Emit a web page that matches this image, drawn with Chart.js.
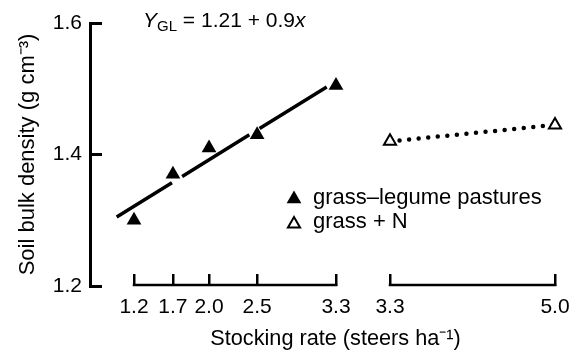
<!DOCTYPE html>
<html><head><meta charset="utf-8">
<script src="https://cdn.jsdelivr.net/npm/chart.js@4/dist/chart.umd.min.js"></script>
<style>
html,body{margin:0;padding:0;background:#fff;}
#wrap{position:relative;width:581px;height:355px;}
#eq{position:absolute;left:143px;top:10px;font-family:'Liberation Sans',Arial,sans-serif;font-size:21px;line-height:20px;color:#000;white-space:nowrap;}
#eq sub{font-size:15px;vertical-align:baseline;position:relative;top:4px;}
</style></head><body>
<div id="wrap"><canvas id="c" width="581" height="355"></canvas><div id="eq"><i>Y</i><sub>GL</sub> = 1.21 + 0.9<i>x</i></div></div>
<script>
// ---- data ----
const yTicks = [1.2, 1.4, 1.6];
const leftTicks = [1.2, 1.7, 2.0, 2.5, 3.3];
const rightTicks = [3.3, 5.0];
const legumeX = [1.2, 1.7, 2.0, 2.5, 3.3];
const legumeY = [1.30, 1.37, 1.41, 1.43, 1.505];
const grassNX = [3.3, 5.0];
const grassNY = [1.42, 1.445];
const fitX = [1.02, 3.23];
const fitY = [1.305, 1.505];
const legendLabels = ['grass\u2013legume pastures', 'grass + N'];
const yTitle = 'Soil bulk density (g cm\u207B\u00B3)';
const xTitle = 'Stocking rate (steers ha\u207B\u00B9)';

// the original figure's left axis is not evenly drawn: where each left tick sits on a uniform ruler
const leftTickPlacement = [1.2, 1.605, 1.98, 2.48, 3.3];

const FONT = "'Liberation Sans', Arial, sans-serif";
Chart.defaults.font.family = FONT;
Chart.defaults.color = '#000';

class WarpScale extends Chart.LinearScale {
  static id = 'warp';
  static defaults = Chart.LinearScale.defaults;
  _w(v) {
    const a = leftTicks, b = leftTickPlacement, n = a.length;
    if (v <= a[0]) return b[0] + (v - a[0]);
    for (let i = 1; i < n; i++) {
      if (v <= a[i]) return b[i - 1] + (v - a[i - 1]) * (b[i] - b[i - 1]) / (a[i] - a[i - 1]);
    }
    return b[n - 1] + (v - a[n - 1]);
  }
  _u(p) {
    const a = leftTicks, b = leftTickPlacement, n = a.length;
    if (p <= b[0]) return a[0] + (p - b[0]);
    for (let i = 1; i < n; i++) {
      if (p <= b[i]) return a[i - 1] + (p - b[i - 1]) * (a[i] - a[i - 1]) / (b[i] - b[i - 1]);
    }
    return a[n - 1] + (p - b[n - 1]);
  }
  getPixelForValue(v) { return super.getPixelForValue(this._w(v)); }
  getValueForPixel(px) { return this._u(super.getValueForPixel(px)); }
}
Chart.register(WarpScale);

const pts = (xs, ys) => xs.map((x, i) => ({x: x, y: ys[i]}));

function tri(ctx, x, y, r) {
  ctx.beginPath();
  ctx.moveTo(x, y - r);
  ctx.lineTo(x + r * Math.sin(2 * Math.PI / 3), y - r * Math.cos(2 * Math.PI / 3));
  ctx.lineTo(x - r * Math.sin(2 * Math.PI / 3), y - r * Math.cos(2 * Math.PI / 3));
  ctx.closePath();
}

const extras = {
  id: 'extras',
  afterDraw(chart) {
    const ctx = chart.ctx;
    ctx.save();
    const y0 = chart.scales.y.getPixelForValue(yTicks[0]);
    [['xL', leftTicks], ['xR', rightTicks]].forEach(([id, t]) => {
      const s = chart.scales[id];
      ctx.beginPath();
      ctx.lineWidth = 2.5; ctx.strokeStyle = '#000'; ctx.lineCap = 'square';
      ctx.moveTo(s.getPixelForValue(t[0]), y0 - 1);
      ctx.lineTo(s.getPixelForValue(t[t.length - 1]), y0 - 1);
      ctx.stroke();
    });
    // legend
    ctx.font = '22px ' + FONT;
    ctx.textBaseline = 'alphabetic';
    ctx.textAlign = 'left';
    tri(ctx, 294, 199, 8.5); ctx.fillStyle = '#000'; ctx.fill();
    ctx.fillText(legendLabels[0], 313, 204);
    tri(ctx, 294, 224, 7); ctx.fillStyle = '#fff'; ctx.fill();
    ctx.lineWidth = 2; ctx.strokeStyle = '#000'; ctx.lineJoin = 'miter'; ctx.stroke();
    ctx.fillStyle = '#000';
    ctx.fillText(legendLabels[1], 313, 228);
    ctx.restore();
  }
};

const noPad = s => { s.paddingLeft = 0; s.paddingRight = 0; s.paddingTop = 0; s.paddingBottom = 0; };
const xTickCommon = {
  padding: 21, color: '#000', font: {size: 21}, maxRotation: 0, autoSkip: false,
  callback: v => Number(v).toFixed(1)
};
const xGrid = {display: true, drawOnChartArea: false, drawTicks: true, tickLength: -12, color: '#000', lineWidth: 2.5};

new Chart(document.getElementById('c'), {
  type: 'line',
  data: {
    datasets: [
      {
        label: 'fit', data: pts(fitX, fitY), xAxisID: 'xL', yAxisID: 'y',
        borderColor: '#000', borderWidth: 3.5, borderDash: [79, 12], borderDashOffset: 14,
        pointRadius: 0, fill: false, tension: 0
      },
      {
        label: legendLabels[0], data: pts(legumeX, legumeY), xAxisID: 'xL', yAxisID: 'y',
        showLine: false, pointStyle: 'triangle', pointRadius: 8.5,
        pointBackgroundColor: '#000', pointBorderColor: '#000', pointBorderWidth: 0
      },
      {
        label: legendLabels[1], data: pts(grassNX, grassNY), xAxisID: 'xR', yAxisID: 'y',
        borderColor: '#000', borderWidth: 4.5, borderDash: [0, 9.6], borderCapStyle: 'round',
        pointStyle: 'triangle', pointRadius: 7, pointBackgroundColor: '#fff',
        pointBorderColor: '#000', pointBorderWidth: 2, fill: false, tension: 0
      }
    ]
  },
  options: {
    responsive: false, animation: false, devicePixelRatio: 1,
    layout: {autoPadding: false, padding: {top: 23, right: 0, bottom: 0, left: 0}},
    plugins: {legend: {display: false}, tooltip: {enabled: false}},
    scales: {
      y: {
        type: 'linear', position: 'left', min: 1.2, max: 1.6,
        afterBuildTicks: s => { s.ticks = yTicks.map(v => ({value: v})); },
        afterFit: s => { s.width = 90; noPad(s); },
        border: {display: true, color: '#000', width: 3},
        grid: {display: true, drawOnChartArea: false, drawTicks: true, tickLength: -12, color: '#000', lineWidth: 3},
        ticks: {padding: 20, color: '#000', font: {size: 21}, callback: v => Number(v).toFixed(1)},
        title: {display: true, text: yTitle, color: '#000', font: {size: 22}, padding: {top: 15, bottom: 0}}
      },
      xL: {
        type: 'warp', position: 'bottom', min: 0.7426, max: 5.847,
        afterBuildTicks: s => { s.ticks = leftTicks.map(v => ({value: v})); },
        afterFit: s => { s.height = 69; noPad(s); },
        border: {display: false},
        grid: xGrid,
        ticks: xTickCommon,
        title: {display: true, text: xTitle, color: '#000', font: {size: 21.7}, padding: {top: 0, bottom: 3}}
      },
      xR: {
        type: 'linear', position: {y: 1.2}, min: 0.209, max: 5.268,
        afterBuildTicks: s => { s.ticks = rightTicks.map(v => ({value: v})); },
        afterFit: s => { noPad(s); },
        border: {display: false},
        grid: xGrid,
        ticks: xTickCommon
      }
    }
  },
  plugins: [extras]
});
</script>
</body></html>
